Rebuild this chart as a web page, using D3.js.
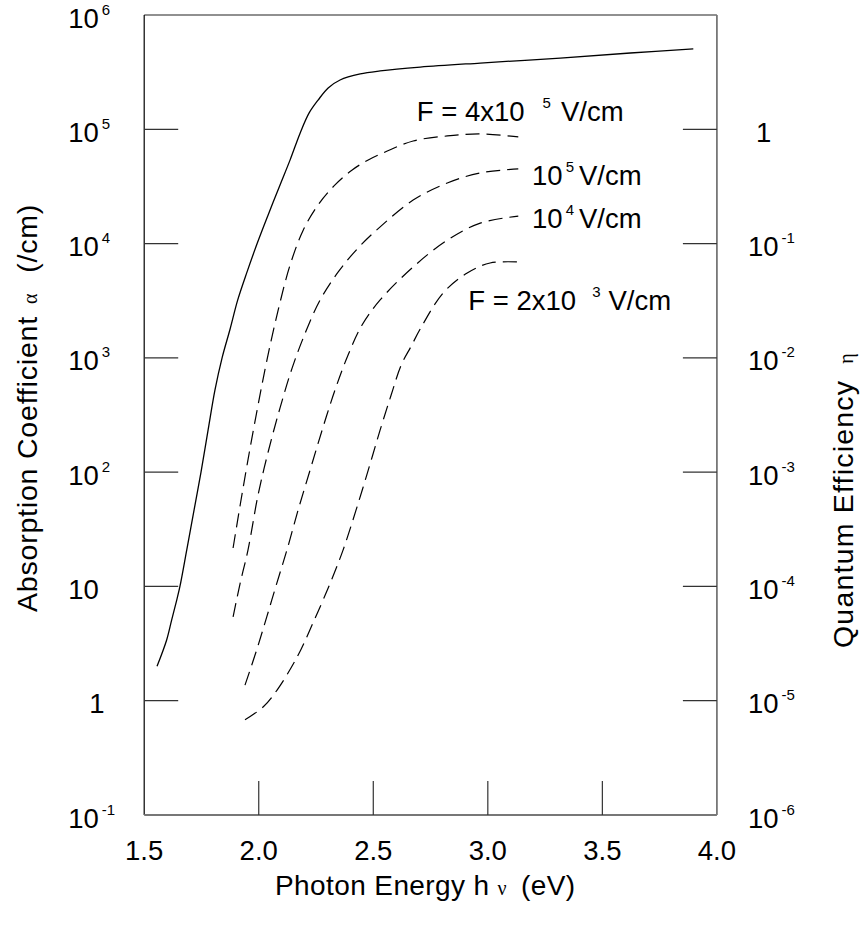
<!DOCTYPE html>
<html><head><meta charset="utf-8">
<script src="https://cdn.jsdelivr.net/npm/d3@7"></script>
<style>body{margin:0;background:#fff}</style>
</head><body><svg id="c" width="865" height="926" xmlns="http://www.w3.org/2000/svg"></svg>
<script>
// ---------- data ----------
const energyTicks = [2.0, 2.5, 3.0, 3.5];
const energyLabelValues = [1.5, 2.0, 2.5, 3.0, 3.5, 4.0];
const energyLabels = ["1.5", "2.0", "2.5", "3.0", "3.5", "4.0"];

const alphaTicks = [1e5, 1e4, 1e3, 1e2, 1e1, 1];
const alphaLabelValues = [1e6, 1e5, 1e4, 1e3, 1e2, 1e1, 1, 0.1];
const alphaLabelBase = ["10", "10", "10", "10", "10", "10", "1", "10"];
const alphaLabelExp = ["6", "5", "4", "3", "2", "", "", "-1"];

const etaLabelValues = [1, 1e-1, 1e-2, 1e-3, 1e-4, 1e-5, 1e-6];
const etaLabelBase = ["1", "10", "10", "10", "10", "10", "10"];
const etaLabelExp = ["", "-1", "-2", "-3", "-4", "-5", "-6"];

// solid: absorption coefficient
const solidE = [1.556,1.598,1.620,1.642,1.656,1.686,1.718,1.748,1.779,1.809,1.840,1.875,1.908,1.949,1.993,2.041,2.093,2.137,2.181,2.220,2.259,2.303,2.355,2.443,2.530,2.705,2.967,3.316,3.622,3.897];
const solidA = [2.0,3.4,5.1,7.6,10,21,47,100,234,524,1000,1790,3200,5650,1.0e4,1.78e4,3.26e4,5.4e4,9.3e4,1.39e5,1.8e5,2.3e5,2.7e5,3.05e5,3.24e5,3.5e5,3.8e5,4.2e5,4.65e5,5.05e5];

// dashed: quantum efficiency curves (plotted on alpha scale, eta = alpha*1e-5)
const f4e5E = [1.888,1.919,1.953,1.993,2.036,2.085,2.137,2.194,2.259,2.333,2.408,2.478,2.552,2.674,2.823,2.967,3.133];
const f4e5A = [21.7,51.6,128,350,960,2630,6500,1.31e4,2.18e4,3.26e4,4.41e4,5.39e4,6.33e4,7.9e4,8.74e4,9.1e4,8.57e4];

const f1e5E = [1.888,1.919,1.953,1.997,2.041,2.093,2.146,2.203,2.268,2.347,2.434,2.530,2.674,2.823,2.967,3.133];
const f1e5A = [5.41,10.7,20.8,63,150,365,817,1650,3210,5650,9160,1.40e4,2.4e4,3.39e4,4.15e4,4.5e4];

const f1e4E = [1.940,1.991,2.035,2.079,2.123,2.172,2.224,2.277,2.333,2.390,2.451,2.530,2.674,2.823,2.967,3.133];
const f1e4A = [1.37,2.78,5.41,10.7,20.8,46.7,104,234,524,1060,1940,3210,6240,1.07e4,1.51e4,1.74e4];

const f2e3E = [1.940,2.019,2.080,2.168,2.237,2.312,2.368,2.425,2.478,2.530,2.578,2.622,2.666,2.705,2.805,2.910,3.010,3.133];
const f2e3A = [0.68,0.88,1.24,2.42,4.8,10.7,20.8,46.7,104,234,473,867,1270,1790,3700,5530,6760,6900];

// curve labels: [energy, alpha] anchor, text parts
const curveLabelE = [2.690, 3.193, 3.193, 2.915];
const curveLabelA = [1.17e5, 3.26e4, 1.37e4, 2.63e3];
const curveLabelMain = ["F = 4x10", "10", "10", "F = 2x10"];
const curveLabelExp = ["5", "5", "4", "3"];
const curveLabelUnit = ["V/cm", "V/cm", "V/cm", "V/cm"];

// ---------- drawing ----------
const FONT = "'Liberation Sans', Arial, Helvetica, sans-serif";
const FS = 27.5, SUP = 15;
const svg = d3.select("#c");
const x = d3.scaleLinear().domain([1.5, 4.0]).range([144.2, 716.9]);
const y = d3.scaleLog().domain([0.1, 1e6]).range([815, 15]);
const yEta = d3.scaleLog().domain([1e-6, 10]).range([815, 15]);
const [x0, x1] = x.range();
const [yb, yt] = y.range();

// frame
svg.append("line").attr("x1", x0).attr("x2", x1).attr("y1", yt).attr("y2", yt).attr("stroke", "#222").attr("stroke-width", 1.2);
svg.append("line").attr("x1", x0).attr("x2", x0).attr("y1", yt).attr("y2", yb).attr("stroke", "#000").attr("stroke-width", 1.2);
svg.append("line").attr("x1", x0).attr("x2", x1).attr("y1", yb).attr("y2", yb).attr("stroke", "#777").attr("stroke-width", 1.8);
svg.append("line").attr("x1", x1).attr("x2", x1).attr("y1", yt).attr("y2", yb).attr("stroke", "#777").attr("stroke-width", 1.8);

const TL = 34;
alphaTicks.forEach(v => {
  svg.append("line").attr("x1", x0).attr("x2", x0 + TL).attr("y1", y(v)).attr("y2", y(v)).attr("stroke", "#333").attr("stroke-width", 1.2);
  svg.append("line").attr("x1", x1 - TL).attr("x2", x1).attr("y1", y(v)).attr("y2", y(v)).attr("stroke", "#333").attr("stroke-width", 1.2);
});
energyTicks.forEach(v => {
  svg.append("line").attr("x1", x(v)).attr("x2", x(v)).attr("y1", yb).attr("y2", yb - TL).attr("stroke", "#333").attr("stroke-width", 1.2);
});

function powLabel(g, px, py, base, exp) {
  const t = g.append("text").attr("x", px).attr("y", py).attr("font-family", FONT).attr("font-size", FS).attr("fill", "#000");
  t.append("tspan").text(base);
  if (exp) t.append("tspan").attr("dx", 3).attr("dy", -13).attr("font-size", SUP).text(exp);
  return t;
}

alphaLabelValues.forEach((v, i) => {
  const isOne = alphaLabelBase[i] === "1";
  powLabel(svg, isOne ? x0 - 55 : x0 - 76, y(v) + 12.5, alphaLabelBase[i], alphaLabelExp[i]);
});
etaLabelValues.forEach((v, i) => {
  const isOne = etaLabelBase[i] === "1";
  powLabel(svg, isOne ? x1 + 39 : x1 + 31, yEta(v) + 12.5, etaLabelBase[i], etaLabelExp[i]);
});
energyLabelValues.forEach((v, i) => {
  svg.append("text").attr("x", x(v)).attr("y", 860).attr("text-anchor", "middle")
    .attr("font-family", FONT).attr("font-size", FS).text(energyLabels[i]);
});

// curves
const line = d3.line().x(d => x(d[0])).y(d => y(d[1])).curve(d3.curveCatmullRom.alpha(0.5));
const zip = (a, b) => a.map((v, i) => [v, b[i]]);
svg.append("path").attr("d", line(zip(solidE, solidA))).attr("fill", "none").attr("stroke", "#000").attr("stroke-width", 1.3);
[[f4e5E, f4e5A], [f1e5E, f1e5A], [f1e4E, f1e4A], [f2e3E, f2e3A]].forEach(([e, a]) => {
  svg.append("path").attr("d", line(zip(e, a))).attr("fill", "none").attr("stroke", "#000")
    .attr("stroke-width", 1.2).attr("stroke-dasharray", "14,7");
});

// curve labels
const supGap = [18, 3, 3, 16];
const unitGap = [10, 5, 5, 8];
curveLabelE.forEach((e, i) => {
  const t = svg.append("text").attr("x", x(e)).attr("y", y(curveLabelA[i])).attr("font-family", FONT).attr("font-size", FS);
  t.append("tspan").text(curveLabelMain[i]);
  t.append("tspan").attr("dx", supGap[i]).attr("dy", -13).attr("font-size", SUP).text(curveLabelExp[i]);
  t.append("tspan").attr("dx", unitGap[i]).attr("dy", 13).text(curveLabelUnit[i]);
});

// axis titles
const xt = svg.append("text").attr("x", 275).attr("y", 895).attr("font-family", FONT).attr("font-size", 28).attr("letter-spacing", 0.4);
xt.append("tspan").text("Photon Energy h");
xt.append("tspan").attr("dx", 8).attr("font-family", "'Liberation Serif', serif").attr("font-size", 20).text("ν");
xt.append("tspan").attr("dx", 14).text("(eV)");

const lt = svg.append("text").attr("transform", "translate(37,612) rotate(-90)").attr("font-family", FONT).attr("font-size", 28.5).attr("letter-spacing", 0.8);
lt.append("tspan").text("Absorption Coefficient");
lt.append("tspan").attr("dx", 12).attr("font-family", "'Liberation Serif', serif").attr("font-size", 20).text("α");
lt.append("tspan").attr("dx", 20).text("(/cm)");

const rt = svg.append("text").attr("transform", "translate(853,648) rotate(-90)").attr("font-family", FONT).attr("font-size", 28.5).attr("letter-spacing", 1.2);
rt.append("tspan").text("Quantum Efficiency");
rt.append("tspan").attr("dx", 16).attr("font-family", "'Liberation Serif', serif").attr("font-size", 20).text("η");
</script></body></html>
